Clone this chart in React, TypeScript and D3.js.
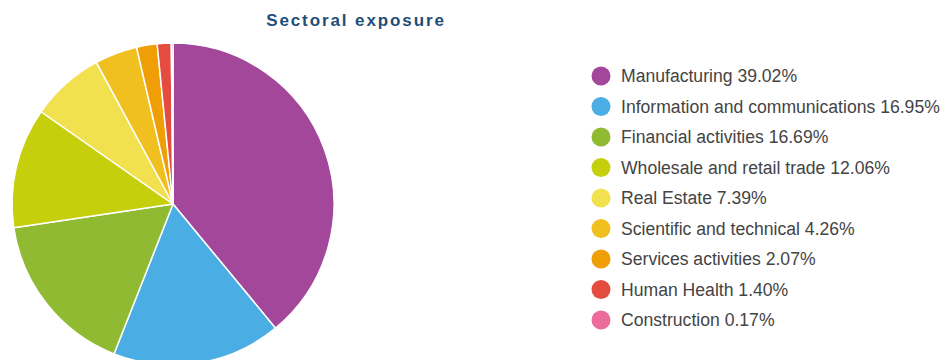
import React from "react";
import * as d3 from "d3";

const categories = [
  "Manufacturing",
  "Information and communications",
  "Financial activities",
  "Wholesale and retail trade",
  "Real Estate",
  "Scientific and technical",
  "Services activities",
  "Human Health",
  "Construction",
];
const values = [39.02, 16.95, 16.69, 12.06, 7.39, 4.26, 2.07, 1.4, 0.17];
const colors = [
  "#a2479a",
  "#4aade3",
  "#8fba32",
  "#c6cf0b",
  "#f2e14f",
  "#f0c020",
  "#f09e05",
  "#e34c3f",
  "#ec6b9a",
];
const title = "Sectoral exposure";

export default function App() {
  const width = 942;
  const height = 360;
  const cx = 173;
  const cy = 204;
  const r = 161;
  const data = categories.map((c, i) => ({ c, v: values[i], color: colors[i] }));
  const pie = d3.pie<any>().value((d) => d.v).sort(null);
  const arc = d3.arc<any>().innerRadius(0).outerRadius(r);
  const arcs = pie(data);
  const legendY = d3.scaleLinear().domain([0, 8]).range([76, 320]);
  const font = "'Liberation Sans', Arial, sans-serif";
  return (
    <svg
      width={width}
      height={height}
      style={{ position: "absolute", left: 0, top: 0 }}
    >
      <text
        x={356}
        y={26}
        textAnchor="middle"
        fontFamily={font}
        fontWeight="bold"
        fontSize={17}
        letterSpacing={1.9}
        fill="#1e4e79"
      >
        {title}
      </text>
      <g transform={`translate(${cx},${cy})`}>
        {arcs.map((a, i) => (
          <path key={i} d={arc(a) as string} fill={a.data.color} stroke="#fff" strokeWidth={1.5} strokeLinejoin="round" />
        ))}
      </g>
      <g>
        {data.map((d, i) => (
          <g key={i} transform={`translate(0,${legendY(i)})`}>
            <circle cx={601} cy={0} r={9.5} fill={d.color} />
            <text x={621} y={0} dy="0.35em" fontFamily={font} fontSize={17.6} fill="#444">
              {`${d.c} ${d.v.toFixed(2)}%`}
            </text>
          </g>
        ))}
      </g>
    </svg>
  );
}
